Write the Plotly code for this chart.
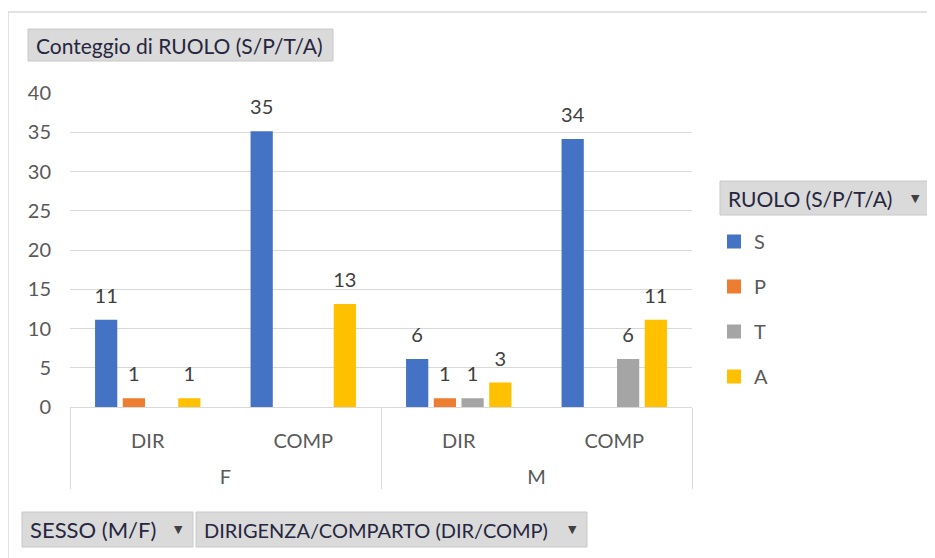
import plotly.graph_objects as go

# ---- data ----
sesso = ["F", "F", "M", "M"]
dirigenza = ["DIR", "COMP", "DIR", "COMP"]
series_names = ["S", "P", "T", "A"]
val_S = [11, 35, 6, 34]
val_P = [1, None, 1, None]
val_T = [None, None, 1, 6]
val_A = [1, 13, 3, 11]
colors = ["#4472C4", "#ED7D31", "#A5A5A5", "#FFC000"]

# page offset (browser body margin)
OFF = 8
W, H = 935 - OFF, 558 - OFF
L, R, T, B = 70, 692, 93, 407          # plot area in page pixels
FONT = "Lato"
GRAY = "#595959"


def px(xp):
    return (xp - L) / (R - L)


def py(yp):
    return (B - yp) / (B - T)


level1 = ["<br>" + s for s in sesso]
xcats = [level1, dirigenza]

fig = go.Figure()
for name, vals, col in zip(series_names, [val_S, val_P, val_T, val_A], colors):
    fig.add_trace(go.Bar(
        x=xcats, y=vals, name=name, marker_color=col,
        marker_line=dict(color=col, width=2),
        legendgroup=name, hoverinfo="x+y+name",
    ))
for name, vals in zip(series_names, [val_S, val_P, val_T, val_A]):
    fig.add_trace(go.Scatter(
        x=xcats, y=vals, mode="markers+text", name=name,
        text=[("" if v is None else str(v)) for v in vals],
        textposition="top center", cliponaxis=False,
        marker=dict(size=19, opacity=0),
        textfont=dict(family=FONT, size=20, color="#404040"),
        showlegend=False, hoverinfo="skip",
    ))

fig.update_layout(
    width=W, height=H,
    margin=dict(l=L - OFF, r=W - (R - OFF), t=T - OFF, b=H - (B - OFF)),
    paper_bgcolor="white", plot_bgcolor="white",
    barmode="group", bargap=0.287, bargroupgap=0.27,
    scattermode="group", scattergap=0.287,
    font=dict(family=FONT, color=GRAY, size=20),
    showlegend=True,
    legend=dict(x=px(714), y=py(222), xanchor="left", yanchor="top",
                font=dict(family=FONT, size=20, color=GRAY),
                tracegroupgap=16, bgcolor="rgba(0,0,0,0)"),
    yaxis=dict(range=[0, 40], dtick=5, showgrid=True, gridcolor="#d9d9d9",
               gridwidth=1, zeroline=False, showline=False,
               tickfont=dict(family=FONT, size=20, color=GRAY),
               ticks="", ticklabelstandoff=18),
    xaxis=dict(type="multicategory", showgrid=False, showline=True,
               linecolor="#d9d9d9", linewidth=1, ticks="",
               showdividers=True, dividercolor="#d9d9d9", dividerwidth=1,
               ticklabelstandoff=16,
               tickfont=dict(family=FONT, size=20, color=GRAY)),
)

# outer chart border
fig.add_shape(type="rect", xref="paper", yref="paper",
              x0=px(8), x1=px(960), y0=py(580), y1=py(12),
              line=dict(color="#d9d9d9", width=1.5), fillcolor="rgba(0,0,0,0)", layer="below")


def button(text, x0, x1, y0, y1, size, arrow=False):
    fig.add_shape(type="rect", xref="paper", yref="paper",
                  x0=px(x0), x1=px(x1), y0=py(y1), y1=py(y0),
                  line=dict(color="#c8c8c8", width=1), fillcolor="#dadada", layer="above")
    fig.add_annotation(xref="paper", yref="paper", x=px(x0 + 6), y=py((y0 + y1) / 2),
                       xanchor="left", yanchor="middle", showarrow=False, text=text,
                       font=dict(family=FONT, size=size, color="#262640"))
    if arrow:
        fig.add_annotation(xref="paper", yref="paper", x=px(x1 - 15), y=py((y0 + y1) / 2),
                           xanchor="center", yanchor="middle", showarrow=False, text="▼",
                           font=dict(family="DejaVu Sans", size=11, color="#404040"))


button("Conteggio di RUOLO (S/P/T/A)", 28, 333, 29, 61, 21)
button("RUOLO (S/P/T/A)", 720, 930, 181, 215, 21, arrow=True)
button("SESSO (M/F)", 22, 193, 512, 547, 22, arrow=True)
button("DIRIGENZA/COMPARTO (DIR/COMP)", 196, 587, 512, 547, 20, arrow=True)

fig.write_html("out.html")
